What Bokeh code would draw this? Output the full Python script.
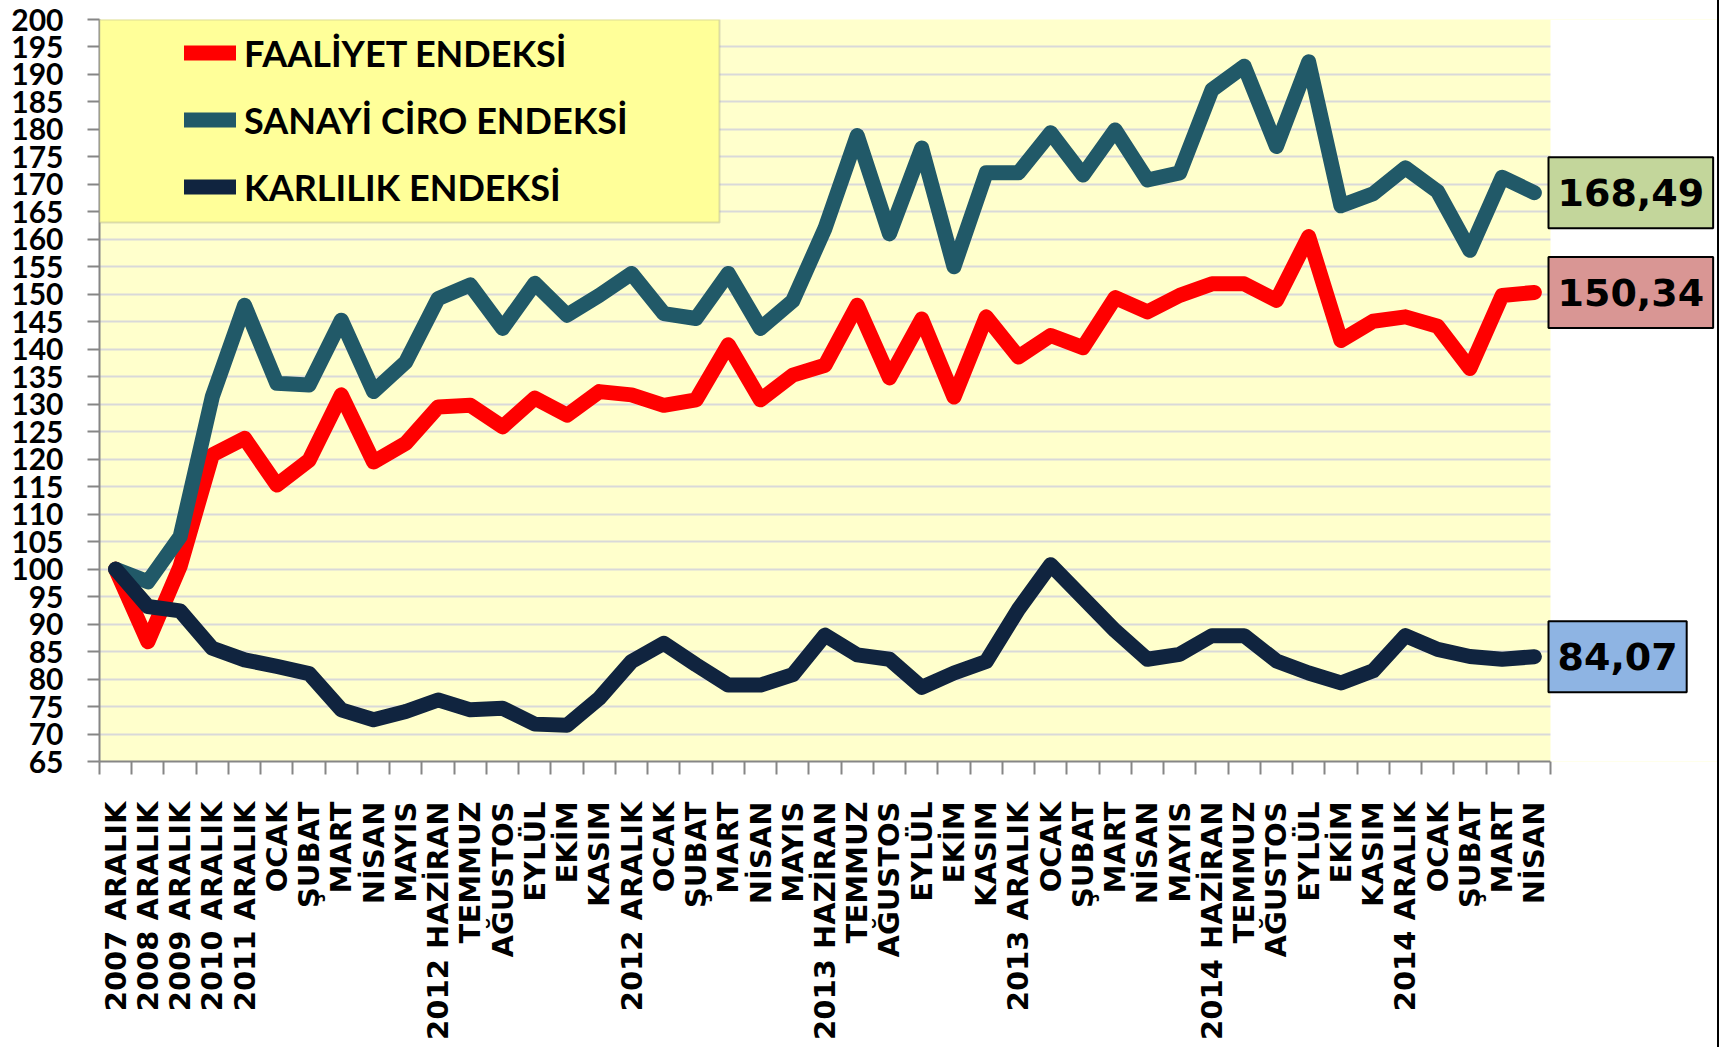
from math import pi
from bokeh.plotting import figure
from bokeh.layouts import row
from bokeh.models import (FixedTicker, Legend, LegendItem, Label, BoxAnnotation, Range1d, Div)
from bokeh.embed import file_html
from bokeh.resources import INLINE

categories = [
    "2007 ARALIK", "2008 ARALIK", "2009 ARALIK", "2010 ARALIK", "2011 ARALIK",
    "OCAK", "ŞUBAT", "MART", "NİSAN", "MAYIS",
    "2012 HAZİRAN", "TEMMUZ", "AĞUSTOS", "EYLÜL", "EKİM", "KASIM",
    "2012 ARALIK", "OCAK", "ŞUBAT", "MART", "NİSAN", "MAYIS",
    "2013 HAZİRAN", "TEMMUZ", "AĞUSTOS", "EYLÜL", "EKİM", "KASIM",
    "2013 ARALIK", "OCAK", "ŞUBAT", "MART", "NİSAN", "MAYIS",
    "2014 HAZİRAN", "TEMMUZ", "AĞUSTOS", "EYLÜL", "EKİM", "KASIM",
    "2014 ARALIK", "OCAK", "ŞUBAT", "MART", "NİSAN",
]

faaliyet = [
    100.0, 86.8, 100.5, 120.8, 123.8, 115.3, 119.8, 131.7, 119.5, 122.9,
    129.5, 129.8, 125.9, 131.1, 128.0, 132.3, 131.7, 129.8, 130.8, 140.8,
    130.8, 135.3, 137.1, 148.0, 134.8, 145.5, 131.3, 145.9, 138.6, 142.5,
    140.3, 149.4, 146.8, 149.8, 151.9, 151.9, 148.9, 160.5, 141.6, 145.1,
    145.9, 144.2, 136.5, 149.8, 150.34,
]

sanayi_ciro = [
    100.0, 97.7, 105.9, 131.4, 148.0, 133.8, 133.5, 145.3, 132.3, 137.7,
    149.2, 151.7, 143.8, 152.0, 146.2, 149.8, 153.8, 146.5, 145.6, 153.8,
    143.8, 148.8, 162.0, 178.9, 161.0, 176.6, 155.0, 172.1, 172.1, 179.4,
    171.7, 179.9, 170.8, 172.1, 187.2, 191.5, 176.9, 192.3, 166.1, 168.3,
    173.0, 168.7, 158.0, 171.3, 168.49,
]

karlilik = [
    100.0, 93.2, 92.4, 85.6, 83.5, 82.3, 81.0, 74.4, 72.6, 74.1,
    76.2, 74.4, 74.7, 71.8, 71.6, 76.5, 83.2, 86.5, 82.6, 78.9,
    78.9, 80.8, 88.0, 84.4, 83.6, 78.5, 81.1, 83.2, 92.7, 100.8,
    94.8, 88.8, 83.6, 84.5, 87.9, 87.9, 83.3, 81.1, 79.3, 81.5,
    87.9, 85.4, 84.1, 83.6, 84.07,
]

series_names = ["FAALİYET ENDEKSİ", "SANAYİ CİRO ENDEKSİ", "KARLILIK ENDEKSİ"]
series_colors = ["#FF0000", "#215968", "#10243F"]
end_labels = ["150,34", "168,49", "84,07"]
end_label_colors = ["#D99694", "#C3D69B", "#8EB4E3"]
y_ticks = list(range(65, 201, 5))

x = list(range(len(categories)))
n = len(categories)

# layout (pixels)
W, H = 1717, 1047
BL, BR, BT = 99, 0, 19
FH = 742
BB = H - BT - FH
FW = W - BL - BR
CAT_PX = 1451 / n            # width of one category in the reference
x_end = -0.5 + FW / CAT_PX   # frame extends to the right edge (room for value boxes)

p = figure(width=W, height=H, output_backend="svg", toolbar_location=None,
           x_range=Range1d(-0.5, x_end), y_range=Range1d(65, 200),
           min_border_left=BL, min_border_right=BR, min_border_top=BT, min_border_bottom=BB,
           background_fill_color="#FFFFCC", border_fill_color="white",
           outline_line_color=None)

# grid
p.xgrid.visible = False
p.ygrid.ticker = FixedTicker(ticks=y_ticks)
p.ygrid.grid_line_color = "#D9D9D9"
p.ygrid.grid_line_width = 2

# y axis
ya = p.yaxis[0]
ya.ticker = FixedTicker(ticks=y_ticks)
ya.axis_line_color = "#868686"
ya.axis_line_width = 2
ya.major_tick_line_color = "#868686"
ya.major_tick_line_width = 2
ya.major_tick_out = 12
ya.major_tick_in = 0
ya.minor_tick_out = 0
ya.minor_tick_in = 0
ya.major_label_standoff = 24
ya.major_label_text_font = "Lato"
ya.major_label_text_font_style = "bold"
ya.major_label_text_font_size = "30px"
ya.major_label_text_color = "#000000"

# x axis
xa = p.xaxis[0]
xa.bounds = (-0.5, n - 0.5)
xa.ticker = FixedTicker(ticks=x, minor_ticks=[i - 0.5 for i in range(n + 1)])
xa.major_label_overrides = {i: c for i, c in enumerate(categories)}
xa.major_label_orientation = pi / 2
xa.axis_line_color = "#868686"
xa.axis_line_width = 2
xa.major_tick_out = 0
xa.major_tick_in = 0
xa.minor_tick_out = 13
xa.minor_tick_in = 0
xa.minor_tick_line_color = "#868686"
xa.minor_tick_line_width = 2
xa.major_label_standoff = 27
xa.major_label_text_font = "DejaVu Sans"
xa.major_label_text_font_style = "bold"
xa.major_label_text_font_size = "29px"
xa.major_label_text_color = "#000000"

# lines
all_series = [faaliyet, sanayi_ciro, karlilik]
renderers = []
for ys, col in zip(all_series, series_colors):
    r = p.line(x, ys, line_color=col, line_width=15, line_cap="round", line_join="round")
    renderers.append(r)

# white area right of the plot area (for the value boxes)
p.add_layout(BoxAnnotation(left=n - 0.5, fill_color="white", fill_alpha=1.0, line_color=None))

# legend background box
px_per_y = FH / 135.0
box = BoxAnnotation(left=-0.5, right=-0.5 + 620 / CAT_PX,
                    top=200, bottom=200 - 203 / px_per_y,
                    fill_color="#FFFF99", fill_alpha=1.0,
                    line_color="#8C8C8C", line_width=2)
p.add_layout(box)

legend = Legend(
    items=[LegendItem(label=nm, renderers=[r]) for nm, r in zip(series_names, renderers)],
    location=(85, FH - 201), padding=0, spacing=0, margin=0,
    glyph_width=52, glyph_height=67, label_height=67, label_standoff=8,
    background_fill_alpha=0, border_line_color=None,
    label_text_font="Lato", label_text_font_style="bold",
    label_text_font_size="36px", label_text_color="#000000",
)
p.add_layout(legend)

# end value labels
for ys, txt, bg in zip(all_series, end_labels, end_label_colors):
    lab = Label(x=n - 0.5, y=ys[-1], x_units="data", y_units="data", text=txt,
                x_offset=-2, text_align="left", text_baseline="middle",
                text_font="DejaVu Sans", text_font_style="bold", text_font_size="38px",
                text_color="#000000",
                background_fill_color=bg, background_fill_alpha=1.0,
                border_line_color="#000000", border_line_width=2,
                padding=dict(left=9, right=9, top=22, bottom=22))
    p.add_layout(lab)

edge = Div(width=2, height=H, margin=0, styles={"background-color": "#000000"})
layout = row(p, edge, spacing=0)

open("out.html", "w").write(file_html(layout, INLINE))
